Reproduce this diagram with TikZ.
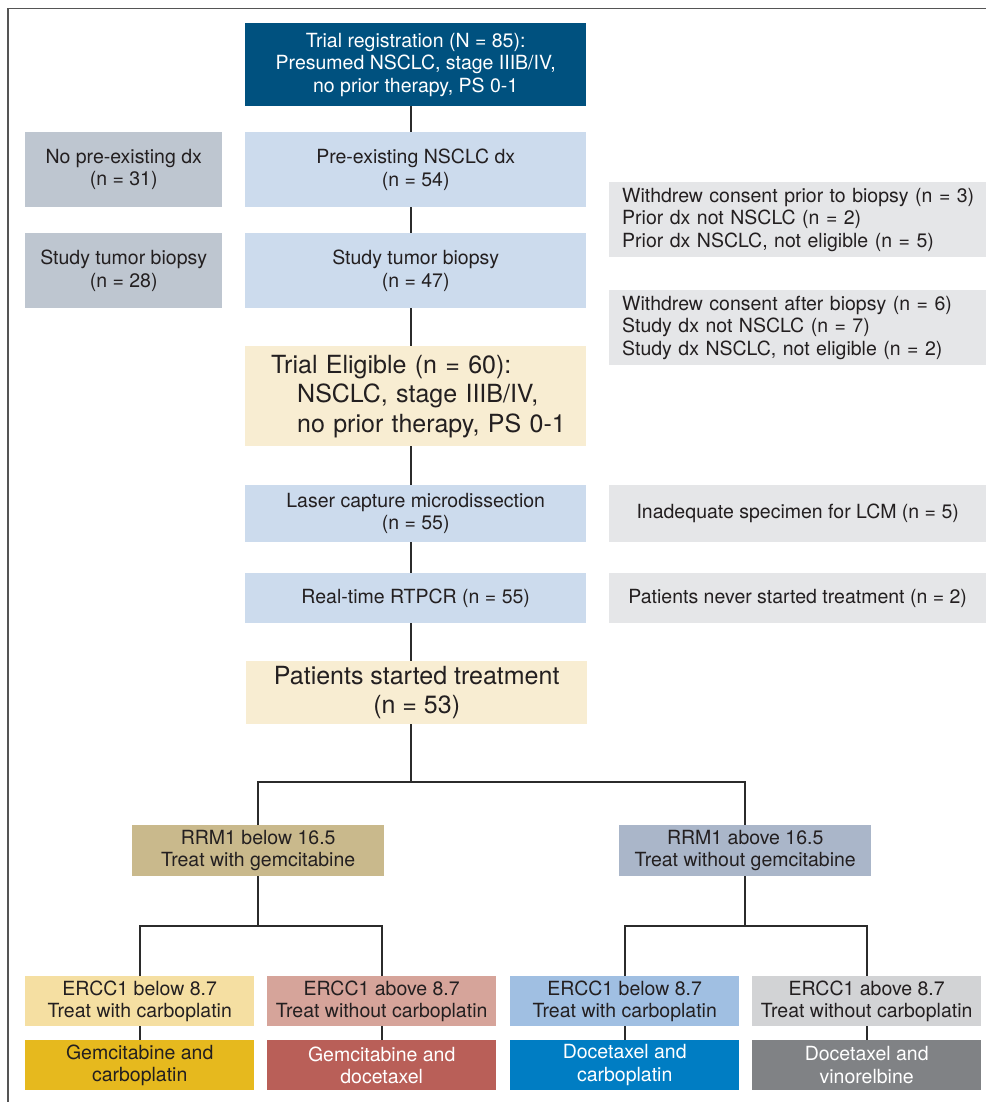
\documentclass[tikz,border=0pt]{standalone}
\usepackage{fontspec}
\setmainfont{TeX Gyre Heros}
\definecolor{txt}{HTML}{231F20}
\definecolor{dkblue}{HTML}{00517F}
\definecolor{lblue}{HTML}{CCDBED}
\definecolor{lgray}{HTML}{BEC6D0}
\definecolor{xgray}{HTML}{E5E6E8}
\definecolor{cream}{HTML}{F8EDD2}
\definecolor{tan}{HTML}{C9B98C}
\definecolor{slate}{HTML}{AAB6C9}
\definecolor{ya}{HTML}{F5DFA2}
\definecolor{yb}{HTML}{E6B91E}
\definecolor{ra}{HTML}{D6A49A}
\definecolor{rb}{HTML}{B95F58}
\definecolor{ba}{HTML}{A0BFE2}
\definecolor{bb}{HTML}{007DC3}
\definecolor{ga}{HTML}{D2D3D5}
\definecolor{gb}{HTML}{808285}
\definecolor{linec}{HTML}{2B2B2B}
\definecolor{framec}{HTML}{555555}
\newcommand\normfont{\fontsize{19.5}{22.5}\selectfont}
\newcommand\bigfont{\fontsize{25}{29.5}\selectfont}
\newcommand\ind{\hspace*{13pt}}
\begin{document}
\begin{tikzpicture}[x=1pt,y=-1pt,
  box/.style={anchor=north west, inner sep=0pt, align=center, text=txt, font=\normfont},
  wide/.style={box, minimum width=341pt},
  side/.style={box, minimum width=197pt, fill=lgray, minimum height=75pt},
  exbox/.style={box, fill=xgray, minimum width=377pt},
  exl/.style={exbox, align=left, text width=377pt},
  rbox/.style={box, minimum width=252pt, minimum height=51pt},
  ebox/.style={box, minimum width=229pt, minimum height=50pt},
  conn/.style={draw=linec, line width=2pt}]
\useasboundingbox (0,0) rectangle (986,1102);
\draw[framec, line width=1.4pt] (8,1102) -- (8,8.5) -- (986,8.5);
% main column
\node[wide, fill=dkblue, text=white, minimum height=83pt] (reg) at (245,23) {Trial registration (N = 85):\\Presumed NSCLC, stage IIIB/IV,\\no prior therapy, PS 0-1};
\node[side] (nopre) at (25,132) {No pre-existing dx\\(n = 31)};
\node[wide, fill=lblue, minimum height=75pt] (pre) at (245,132) {Pre-existing NSCLC dx\\(n = 54)};
\node[side] (lbio) at (25,233) {Study tumor biopsy\\(n = 28)};
\node[wide, fill=lblue, minimum height=75pt] (bio) at (245,233) {Study tumor biopsy\\(n = 47)};
\node[exl, minimum height=75pt] (ex1) at (609,182) {\ind Withdrew consent prior to biopsy (n = 3)\\\ind Prior dx not NSCLC (n = 2)\\\ind Prior dx NSCLC, not eligible (n = 5)};
\node[exl, minimum height=75pt] (ex2) at (609,290) {\ind Withdrew consent after biopsy (n = 6)\\\ind Study dx not NSCLC (n = 7)\\\ind Study dx NSCLC, not eligible (n = 2)};
\node[box, fill=cream, font=\bigfont, align=left, text width=341pt, minimum height=100pt] (elig) at (245,346) {\hspace*{26pt}Trial Eligible (n = 60):\\\hspace*{52pt}NSCLC, stage IIIB/IV,\\\hspace*{52pt}no prior therapy, PS 0-1};
\node[wide, fill=lblue, minimum height=57pt] (lcm) at (245,485) {Laser capture microdissection\\(n = 55)};
\node[exbox, minimum height=57pt] (ex3) at (609,485) {Inadequate specimen for LCM (n = 5)};
\node[wide, fill=lblue, minimum height=50pt] (rt) at (245,573) {Real-time RTPCR (n = 55)};
\node[exbox, minimum height=50pt] (ex4) at (609,573) {Patients never started treatment (n = 2)};
\node[wide, fill=cream, font=\bigfont, minimum height=63pt] (start) at (246,661) {Patients started treatment\\(n = 53)};
% RRM1 level
\node[rbox, fill=tan] (rrmA) at (132,825) {RRM1 below 16.5\\Treat with gemcitabine};
\node[rbox, fill=slate] (rrmB) at (619,825) {RRM1 above 16.5\\Treat without gemcitabine};
% ERCC1 level
\node[ebox, fill=ya] (e1) at (25,976) {ERCC1 below 8.7\\Treat with carboplatin};
\node[ebox, fill=ra] (e2) at (267,976) {ERCC1 above 8.7\\Treat without carboplatin};
\node[ebox, fill=ba] (e3) at (510,976) {ERCC1 below 8.7\\Treat with carboplatin};
\node[ebox, fill=ga] (e4) at (752,976) {ERCC1 above 8.7\\Treat without carboplatin};
\node[ebox, fill=yb] (t1) at (25,1040) {Gemcitabine and\\carboplatin};
\node[ebox, fill=rb, text=white] (t2) at (267,1040) {Gemcitabine and\\docetaxel};
\node[ebox, fill=bb, text=white] (t3) at (510,1040) {Docetaxel and\\carboplatin};
\node[ebox, fill=gb, text=white] (t4) at (752,1040) {Docetaxel and\\vinorelbine};
% connectors
\coordinate (tk) at (411,0);
\draw[conn] (reg.south -| tk) -- (pre.north -| tk);
\draw[conn] (pre.south -| tk) -- (bio.north -| tk);
\draw[conn] (bio.south -| tk) -- (elig.north -| tk);
\draw[conn] (elig.south -| tk) -- (lcm.north -| tk);
\draw[conn] (lcm.south -| tk) -- (rt.north -| tk);
\draw[conn] (rt.south -| tk) -- (start.north -| tk);
\draw[conn] (start.south -| tk) -- ++(0,58) coordinate (s1);
\draw[conn] (rrmA.north) |- (s1) -| (rrmB.north);
\draw[conn] (rrmA.south) -- ++(0,50) coordinate (s2);
\draw[conn] (e1.north) |- (s2) -| (e2.north);
\draw[conn] (rrmB.south) -- ++(0,50) coordinate (s3);
\draw[conn] (e3.north) |- (s3) -| (e4.north);
\draw[conn] (e1.south) -- (t1.north);
\draw[conn] (e2.south) -- (t2.north);
\draw[conn] (e3.south) -- (t3.north);
\draw[conn] (e4.south) -- (t4.north);
\end{tikzpicture}
\end{document}
